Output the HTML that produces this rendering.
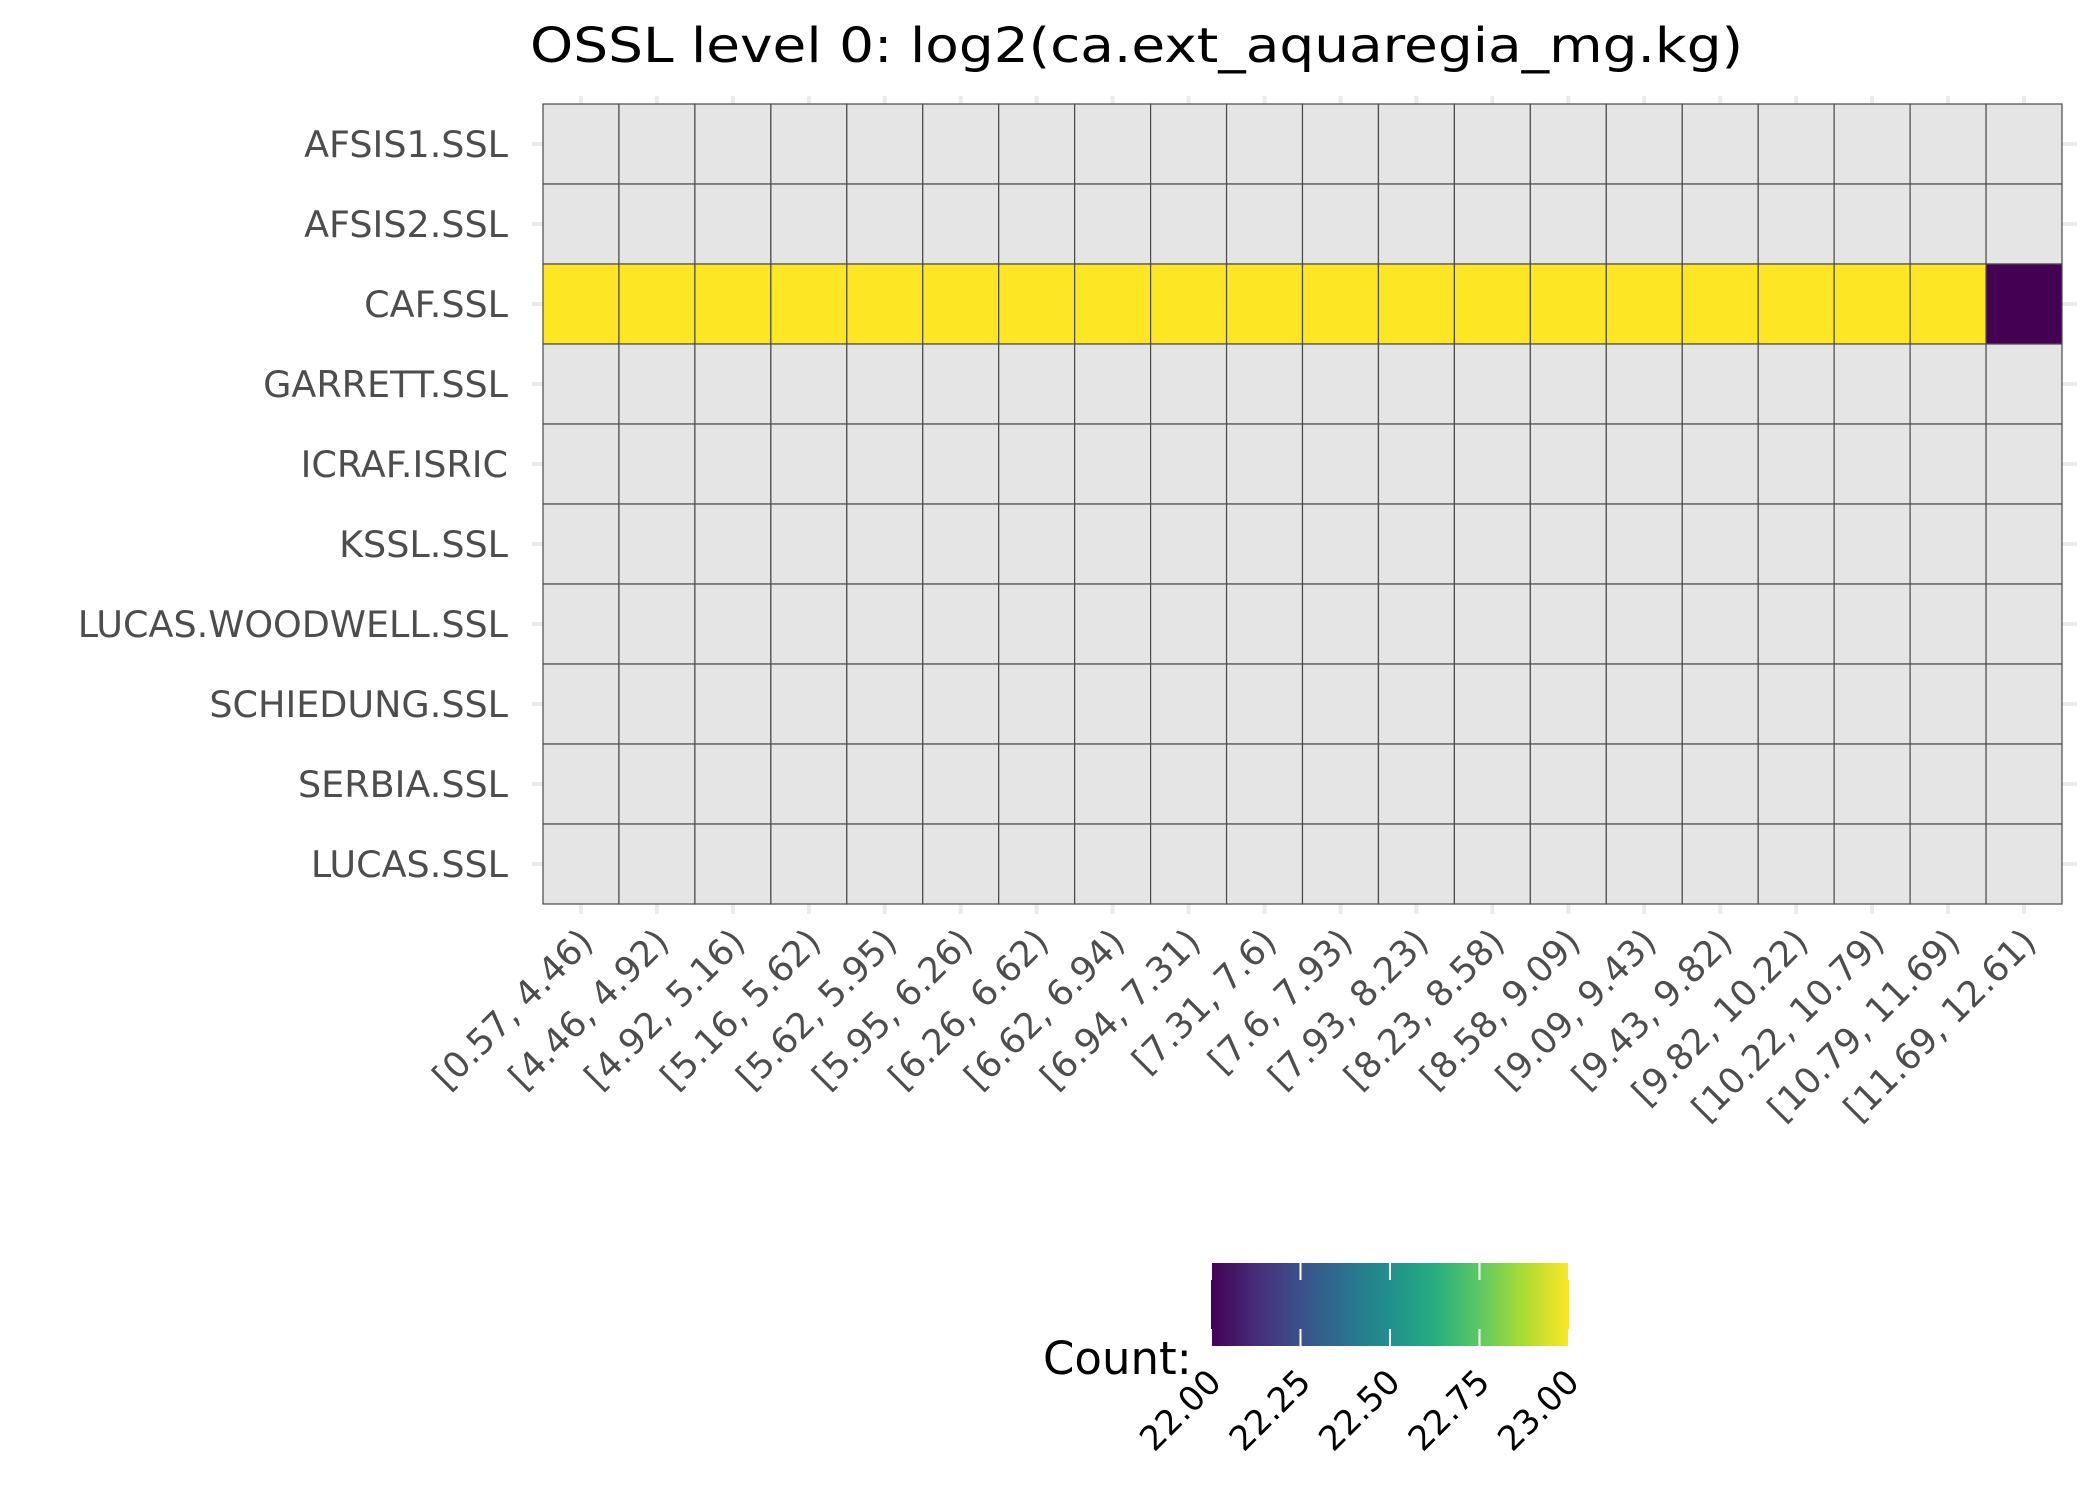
<!DOCTYPE html>
<html><head><meta charset="utf-8"><style>
html,body{margin:0;padding:0;background:#fff}
svg{display:block}
text{font-family:"DejaVu Sans","Liberation Sans",sans-serif}
</style></head><body>
<svg id="chart" width="2100" height="1500" viewBox="0 0 2100 1500">
<defs>
<linearGradient id="vir" x1="0" x2="1" y1="0" y2="0">
<stop offset="0" stop-color="#440154"/><stop offset="0.125" stop-color="#472c7a"/><stop offset="0.25" stop-color="#3b518b"/><stop offset="0.375" stop-color="#2c718e"/><stop offset="0.5" stop-color="#21908d"/><stop offset="0.625" stop-color="#27ad81"/><stop offset="0.75" stop-color="#5cc863"/><stop offset="0.875" stop-color="#aadc32"/><stop offset="1" stop-color="#fde725"/>
</linearGradient>
</defs>
<text x="530" y="62" font-size="48" fill="#000" textLength="1213" lengthAdjust="spacingAndGlyphs">OSSL level 0: log2(ca.ext_aquaregia_mg.kg)</text>
<g id="grid"></g>
<g id="tiles"></g>
<g id="ylabels"></g>
<g id="xlabels"></g>
<g id="legend">
<rect x="1211" y="1263" width="358" height="83" fill="url(#vir)"/>
<text x="1043" y="1374" font-size="45" fill="#000">Count:</text>
<g id="legticks"></g>
</g>
</svg>
<script>
const categories = ["AFSIS1.SSL","AFSIS2.SSL","CAF.SSL","GARRETT.SSL","ICRAF.ISRIC","KSSL.SSL","LUCAS.WOODWELL.SSL","SCHIEDUNG.SSL","SERBIA.SSL","LUCAS.SSL"];
const bins = ["[0.57, 4.46)","[4.46, 4.92)","[4.92, 5.16)","[5.16, 5.62)","[5.62, 5.95)","[5.95, 6.26)","[6.26, 6.62)","[6.62, 6.94)","[6.94, 7.31)","[7.31, 7.6)","[7.6, 7.93)","[7.93, 8.23)","[8.23, 8.58)","[8.58, 9.09)","[9.09, 9.43)","[9.43, 9.82)","[9.82, 10.22)","[10.22, 10.79)","[10.79, 11.69)","[11.69, 12.61)"];
const cafCounts = [23,23,23,23,23,23,23,23,23,23,23,23,23,23,23,23,23,23,23,22];
const cafRow = "CAF.SSL";
const legendTicks = [22.00,22.25,22.50,22.75,23.00];
const legendMin = 22, legendMax = 23;

const NS="http://www.w3.org/2000/svg";
const PX0=543, PX1=2062, PY0=104, PY1=904;
const cw=(PX1-PX0)/bins.length, rh=(PY1-PY0)/categories.length;
const xC=i=>PX0+cw*(i+0.5);
const yC=j=>PY0+rh*(j+0.5);
const stops=[[0,"#440154"],[0.125,"#472c7a"],[0.25,"#3b518b"],[0.375,"#2c718e"],[0.5,"#21908d"],[0.625,"#27ad81"],[0.75,"#5cc863"],[0.875,"#aadc32"],[1,"#fde725"]];
function hex(h){return [1,3,5].map(k=>parseInt(h.substr(k,2),16));}
function vir(v){let t=(v-legendMin)/(legendMax-legendMin);t=Math.max(0,Math.min(1,t));
 for(let k=1;k<stops.length;k++){if(t<=stops[k][0]){const a=hex(stops[k-1][1]),b=hex(stops[k][1]);const f=(t-stops[k-1][0])/(stops[k][0]-stops[k-1][0]);return "rgb("+a.map((c,i)=>Math.round(c+(b[i]-c)*f)).join(",")+")";}}
 return stops[stops.length-1][1];}
function mk(tag,attrs,parent){const e=document.createElementNS(NS,tag);for(const k in attrs)e.setAttribute(k,attrs[k]);parent.appendChild(e);return e;}
const grid=document.getElementById("grid"),tiles=document.getElementById("tiles"),yl=document.getElementById("ylabels"),xl=document.getElementById("xlabels"),lt=document.getElementById("legticks");
bins.forEach((b,i)=>{const l=mk("line",{x1:xC(i),x2:xC(i),y1:96,y2:914,stroke:"#ebebeb","stroke-width":4},grid);

});
categories.forEach((c,j)=>{const l=mk("line",{x1:532,x2:2077,y1:yC(j),y2:yC(j),stroke:"#ebebeb","stroke-width":4},grid);

});
categories.forEach((c,j)=>{bins.forEach((b,i)=>{
 const v=(c===cafRow)?cafCounts[i]:null;
 const r=mk("rect",{x:PX0+cw*i,y:PY0+rh*j,width:cw,height:rh,fill:v==null?"#e5e5e5":vir(v),stroke:"#4a4a4a","stroke-width":1.2},tiles);
 
 });
 const t=mk("text",{x:508,y:yC(j)+13,"font-size":36.5,fill:"#4d4d4d","text-anchor":"end"},yl);t.textContent=c;
 
 });
bins.forEach((b,i)=>{const x=xC(i)+14,y=944;
 const t=mk("text",{x:x,y:y,"font-size":35.5,fill:"#4d4d4d","text-anchor":"end",transform:`rotate(-45 ${x} ${y})`},xl);t.textContent=b;
 
 });
legendTicks.forEach(v=>{const x=1211+358*(v-legendMin)/(legendMax-legendMin);
 const a=mk("line",{x1:x,x2:x,y1:1263,y2:1280,stroke:"#fff","stroke-width":2},lt);
 
 
 const b2=mk("line",{x1:x,x2:x,y1:1329,y2:1346,stroke:"#fff","stroke-width":2},lt);
 
 
 const tx=x+12,ty=1384;
 const t=mk("text",{x:tx,y:ty,"font-size":34,fill:"#000","text-anchor":"end",transform:`rotate(-45 ${tx} ${ty})`},lt);t.textContent=v.toFixed(2);
 
 });
</script>
</body></html>
